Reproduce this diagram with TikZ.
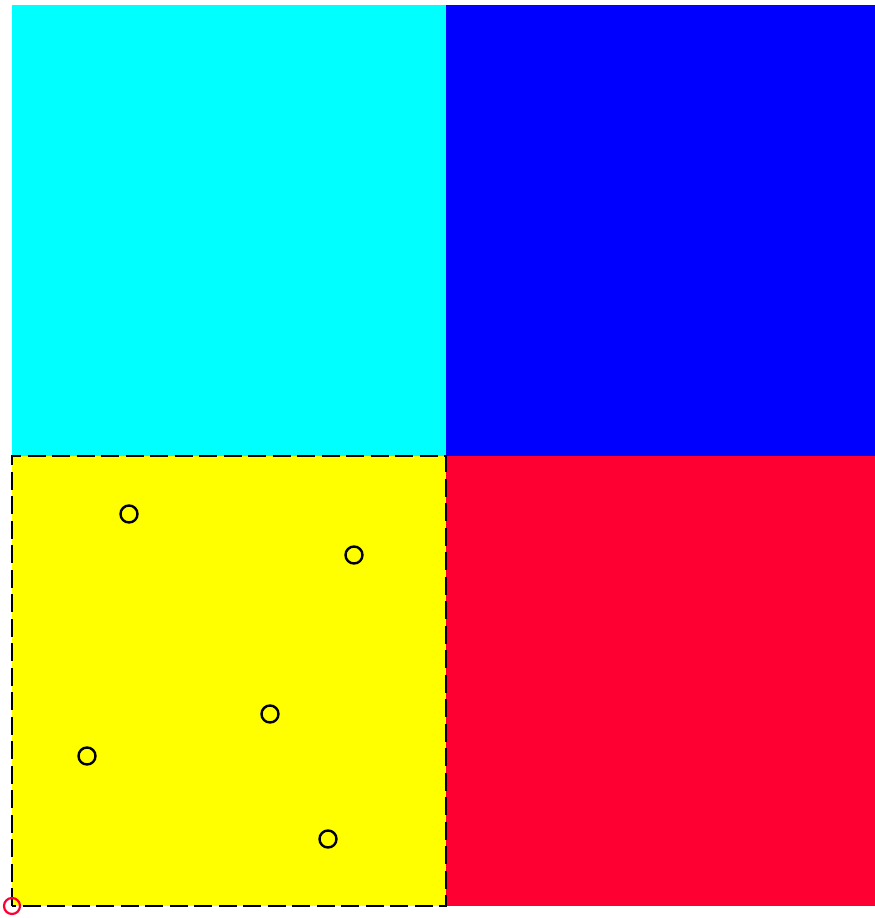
\documentclass[tikz,border=0pt]{standalone}
\definecolor{myred}{RGB}{255,0,51}
\definecolor{mycyan}{RGB}{0,255,255}
\definecolor{myblue}{RGB}{0,0,255}
\definecolor{myyellow}{RGB}{255,255,0}
\tikzset{
  dot/.style={circle, draw=black, line width=2.4pt, minimum size=17pt, inner sep=0pt},
  origin/.style={circle, draw=myred, line width=2.2pt, minimum size=16pt, inner sep=0pt},
}
\begin{document}
\begin{tikzpicture}[x=1pt,y=-1pt]
\useasboundingbox (0,0) rectangle (875,918);
\fill[mycyan] (12,5) rectangle (446,456);
\fill[myblue] (446,5) rectangle (875,456);
\fill[myyellow] (12,456) rectangle (446,906);
\fill[myred] (446,456) rectangle (875,906);
\draw[black, line width=2pt, dash pattern=on 18pt off 6.5pt] (12,906) rectangle (446,456);
\node[dot] (c1) at (129,514) {};
\node[dot] (c2) at (354,555) {};
\node[dot] (c3) at (270,714) {};
\node[dot] (c4) at (87,756) {};
\node[dot] (c5) at (328,839) {};
\node[origin] (o) at (12,906) {};
\end{tikzpicture}
\end{document}
